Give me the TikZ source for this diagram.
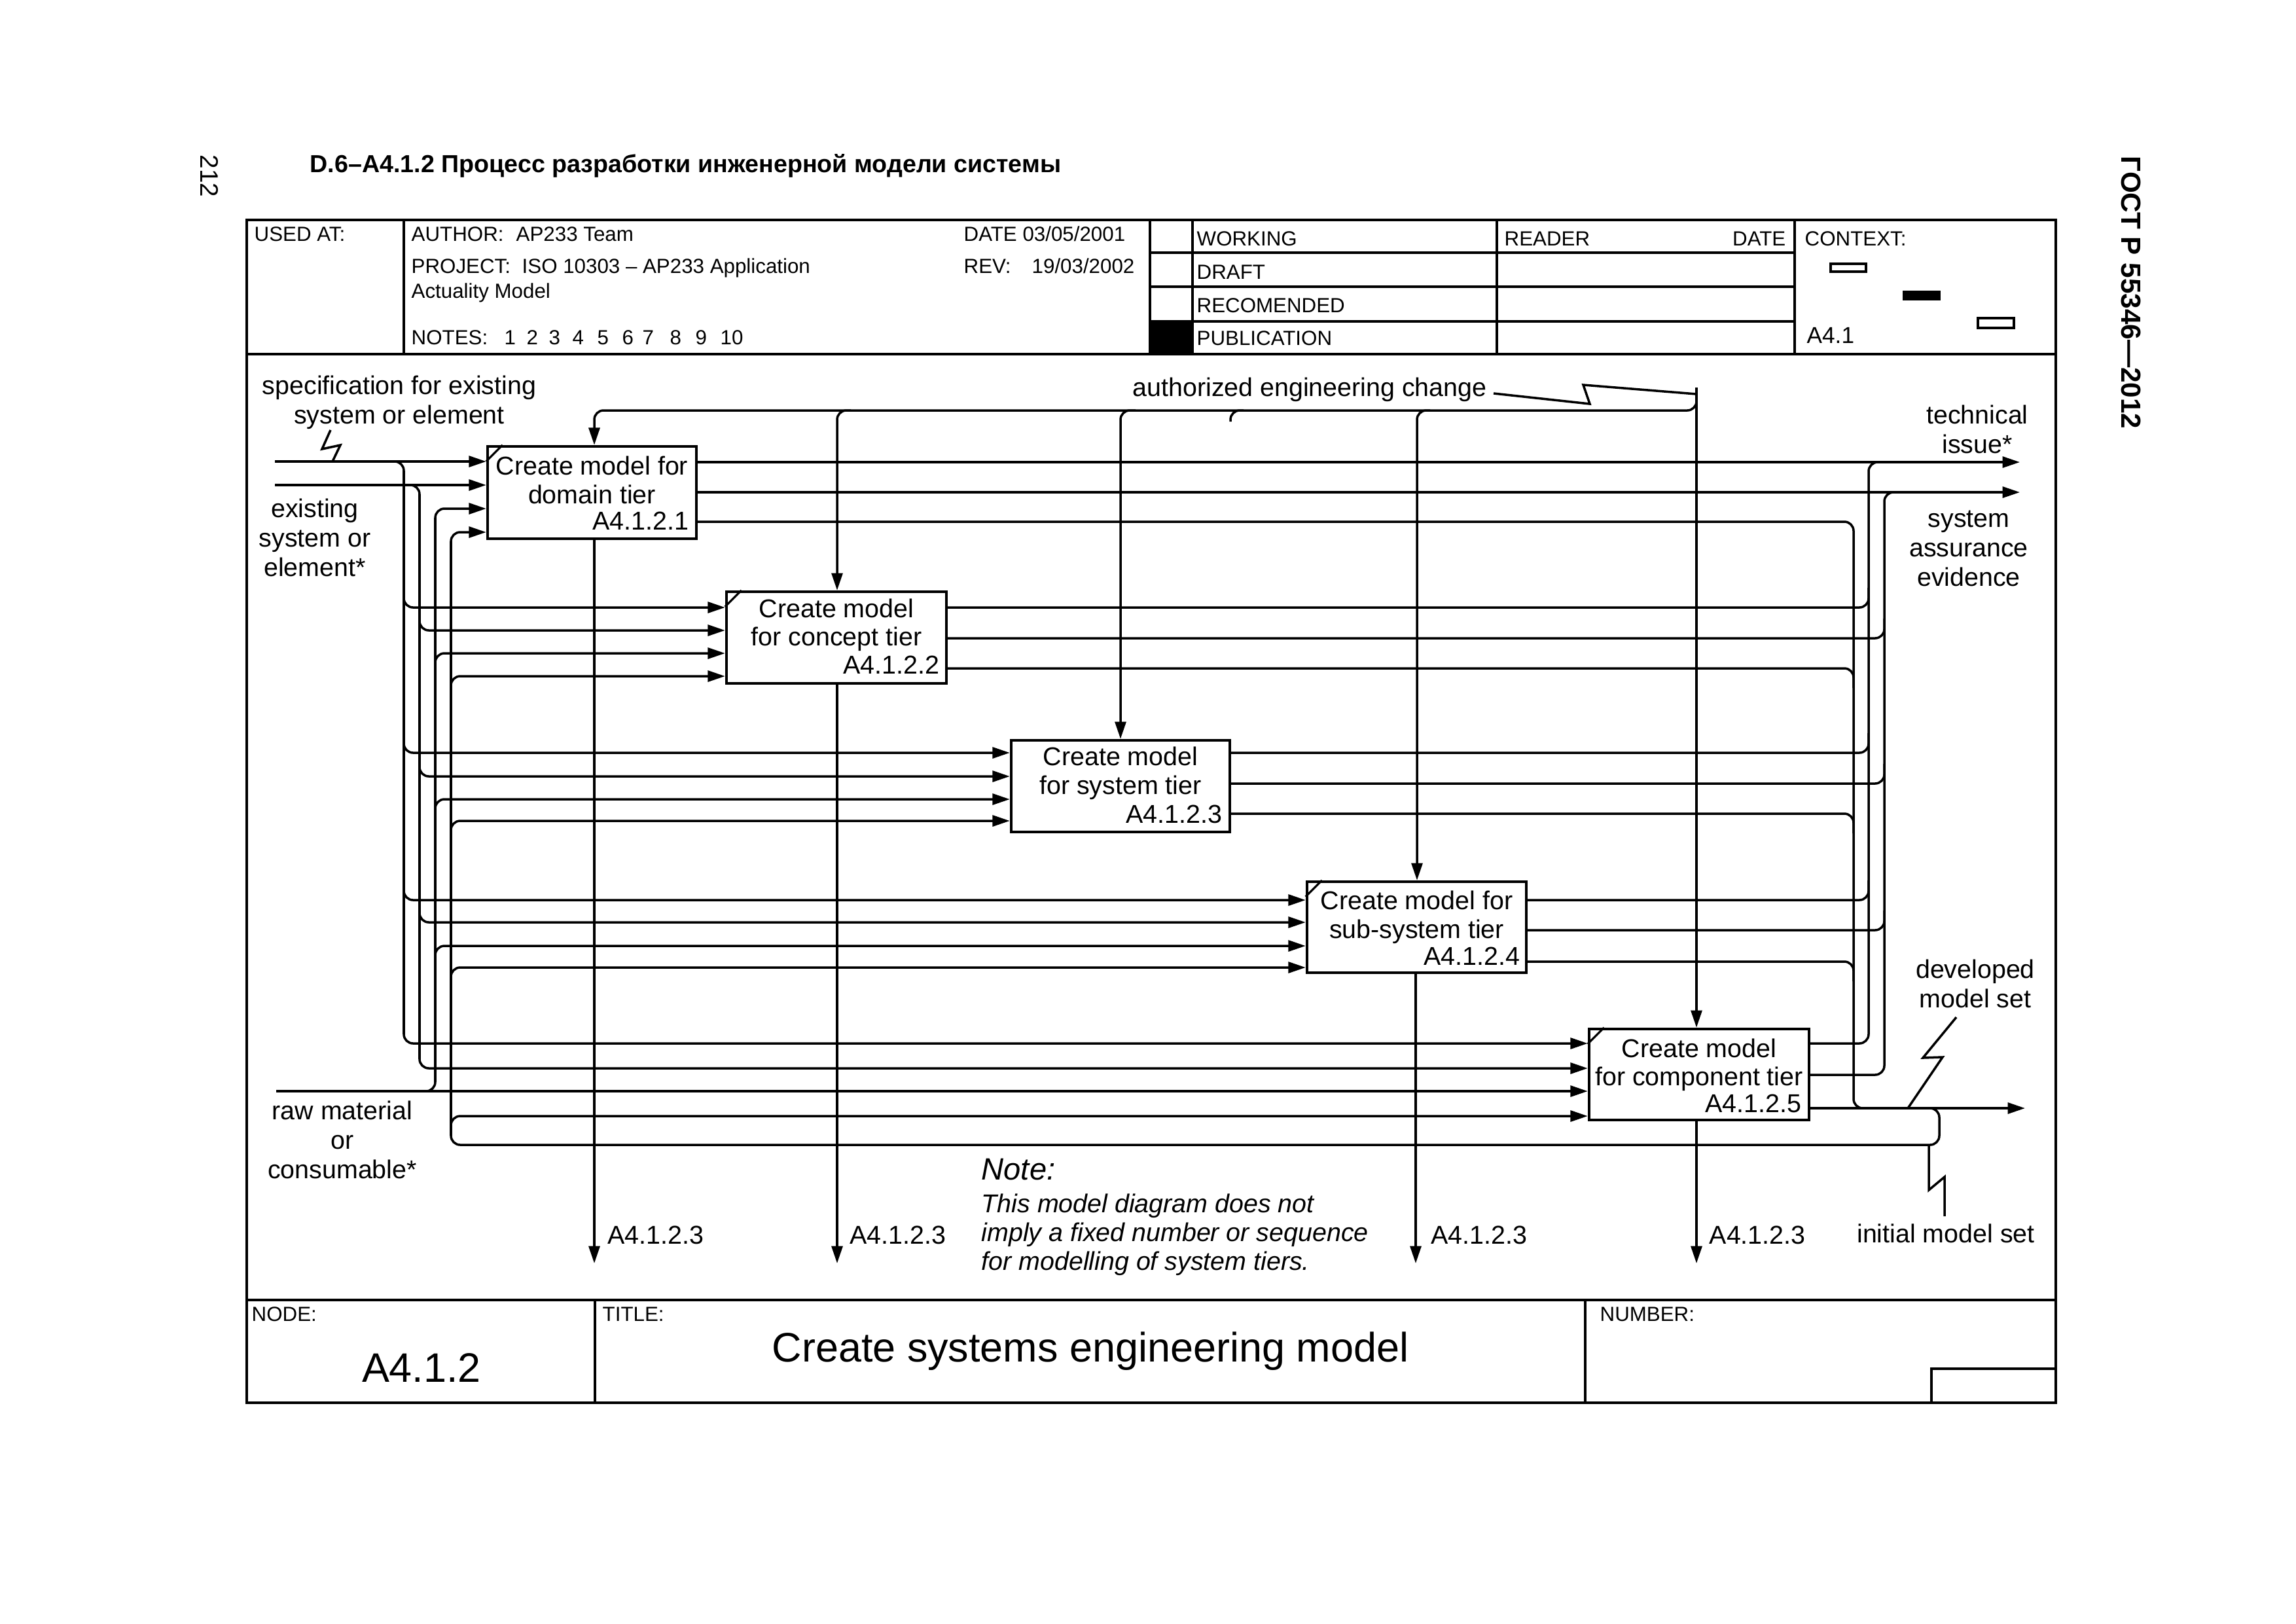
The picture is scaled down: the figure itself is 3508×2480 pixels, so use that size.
\documentclass[tikz,border=0pt]{standalone}
\usepackage{fontspec}
\setmainfont{Liberation Sans}
\usetikzlibrary{arrows.meta}
\begin{document}
\begin{tikzpicture}[x=0.01cm,y=-0.01cm,
  wire/.style={line width=1pt},
  arr/.style={line width=1pt,-{Triangle[length=7.5pt,width=4.8pt]}},
  rc/.style={rounded corners=4pt},
  proc/.style={draw,line width=1.2pt,inner sep=0pt},
  lbl/.style={font=\fontsize{11.2}{13}\selectfont,inner sep=0pt,anchor=base},
  lblw/.style={lbl,anchor=base west},
  hdr/.style={font=\fontsize{8.9}{10.5}\selectfont,inner sep=0pt,anchor=base west},
  frm/.style={line width=1.25pt},
  divl/.style={line width=0.9pt},
  dtick/.style={line width=0.9pt},
  notetxt/.style={font=\itshape\fontsize{11.2}{13}\selectfont,inner sep=0pt,anchor=base west},
]
\useasboundingbox (0,0) rectangle (3508,2480);
\fill[white] (0,0) rectangle (3508,2480);

% ---------- page texts ----------
\node[font=\bfseries\fontsize{10.7}{12.5}\selectfont,inner sep=0pt,anchor=base west] (ptitle) at (473,263) {D.6–A4.1.2 Процесс разработки инженерной модели системы};
\node[font=\fontsize{11}{13}\selectfont,inner sep=0pt,anchor=base west,rotate=-90] (pnum) at (306,236) {212};
\node[font=\bfseries\fontsize{12}{14}\selectfont,inner sep=0pt,anchor=base west,rotate=-90] (gost) at (3241,238) {ГОСТ Р 55346—2012};

% ---------- frame ----------
\draw[frm] (377,336) rectangle (3141,2143);
\draw[frm] (377,541) -- (3141,541);
\draw[frm] (377,1986) -- (3141,1986);

% header dividers
\draw[divl] (617,336) -- (617,541);
\draw[divl] (1757,336) -- (1757,541);
\draw[divl] (1822,336) -- (1822,541);
\draw[divl] (2287,336) -- (2287,541);
\draw[divl] (2742,336) -- (2742,541);
\draw[frm] (1757,386) -- (2742,386);
\draw[frm] (1757,438) -- (2742,438);
\draw[frm] (1757,491) -- (2742,491);
\fill (1757,491) rectangle (1822,541);

% header texts
\node[hdr] (usedat) at (388,368) {USED AT:};
\node[hdr] (author) at (628,368) {AUTHOR:};
\node[hdr] (authorv) at (788,368) {AP233 Team};
\node[hdr] (date) at (1472,368) {DATE 03/05/2001};
\node[hdr] (project) at (628,417) {PROJECT:};
\node[hdr] (projectv) at (797,417) {ISO 10303 – AP233 Application};
\node[hdr] (project2) at (628,455) {Actuality Model};
\node[hdr] (rev) at (1472,417) {REV:};
\node[hdr] (revv) at (1576,417) {19/03/2002};
\node[hdr] (notes) at (628,526) {NOTES:};
\foreach \n/\xx in {1/770,2/804,3/838,4/874,5/912,6/950,7/981,8/1023,9/1062,10/1100}
  \node[hdr] (note\n) at (\xx,526) {\n};
\node[hdr] (working) at (1828,375) {WORKING};
\node[hdr] (draft) at (1828,426) {DRAFT};
\node[hdr] (recom) at (1828,477) {RECOMENDED};
\node[hdr] (publ) at (1828,527) {PUBLICATION};
\node[hdr] (reader) at (2298,375) {READER};
\node[hdr,anchor=base east] (rdate) at (2729,375) {DATE};
\node[hdr] (context) at (2757,375) {CONTEXT:};
\node[font=\fontsize{10}{12}\selectfont,inner sep=0pt,anchor=base west] (ctxid) at (2760,524) {A4.1};
\draw[line width=1.1pt] (2797,403) rectangle (2851,415);
\fill (2907,444) rectangle (2965,459);
\draw[line width=1.1pt] (3022,486) rectangle (3077,501);

% title block
\draw[divl] (909,1986) -- (909,2143);
\draw[divl] (2422,1986) -- (2422,2143);
\draw[divl] (2951,2143) -- (2951,2091) -- (3141,2091);
\node[hdr] (nodelbl) at (384,2018) {NODE:};
\node[hdr] (titlelbl) at (920,2018) {TITLE:};
\node[hdr] (numlbl) at (2444,2018) {NUMBER:};
\node[font=\fontsize{17.9}{20}\selectfont,inner sep=0pt,anchor=base] (nodeid) at (644,2111) {A4.1.2};
\node[font=\fontsize{17.9}{20}\selectfont,inner sep=0pt,anchor=base] (title) at (1666,2080) {Create systems engineering model};

% ---------- boxes ----------
\node[proc,minimum width=3.19cm,minimum height=1.41cm] (b1) at (904.5,752.5) {};
\node[proc,minimum width=3.36cm,minimum height=1.40cm] (b2) at (1278,974) {};
\node[proc,minimum width=3.34cm,minimum height=1.40cm] (b3) at (1712,1201) {};
\node[proc,minimum width=3.35cm,minimum height=1.39cm] (b4) at (2164.5,1416.5) {};
\node[proc,minimum width=3.36cm,minimum height=1.39cm] (b5) at (2596,1641.5) {};

\draw[dtick] (b1.north west) ++(0,25) -- ++(25,-25);
\draw[dtick] (b2.north west) ++(0,25) -- ++(25,-25);
\draw[dtick] (b4.north west) ++(0,25) -- ++(25,-25);
\draw[dtick] (b5.north west) ++(0,25) -- ++(25,-25);

\node[lbl] (b1a) at (904.5,725) {Create model for};
\node[lbl] (b1b) at (904.5,769) {domain tier};
\node[lbl,anchor=base east] (b1c) at (1053,809) {A4.1.2.1};
\node[lbl] (b2a) at (1278,943) {Create model};
\node[lbl] (b2b) at (1278,986) {for concept tier};
\node[lbl,anchor=base east] (b2c) at (1436,1029) {A4.1.2.2};
\node[lbl] (b3a) at (1712,1169) {Create model};
\node[lbl] (b3b) at (1712,1213) {for system tier};
\node[lbl,anchor=base east] (b3c) at (1868,1257) {A4.1.2.3};
\node[lbl] (b4a) at (2164.5,1389) {Create model for};
\node[lbl] (b4b) at (2164.5,1433) {sub-system tier};
\node[lbl,anchor=base east] (b4c) at (2323,1474) {A4.1.2.4};
\node[lbl] (b5a) at (2596,1615) {Create model};
\node[lbl] (b5b) at (2596,1658) {for component tier};
\node[lbl,anchor=base east] (b5c) at (2753,1699) {A4.1.2.5};

% ---------- external labels ----------
\node[lbl] (spec1) at (610,602) {specification for existing};
\node[lbl] (spec2) at (610,647) {system or element};
\node[lbl] (ex1) at (481,790) {existing};
\node[lbl] (ex2) at (481,835) {system or};
\node[lbl] (ex3) at (481,880) {element*};
\node[lbl] (raw1) at (523,1710) {raw material};
\node[lbl] (raw2) at (523,1755) {or};
\node[lbl] (raw3) at (523,1800) {consumable*};
\node[lblw] (auth) at (1730,605) {authorized engineering change};
\node[lbl] (tech1) at (3021,647) {technical};
\node[lbl] (tech2) at (3021,692) {issue*};
\node[lbl] (sae1) at (3008,805) {system};
\node[lbl] (sae2) at (3008,850) {assurance};
\node[lbl] (sae3) at (3008,895) {evidence};
\node[lbl] (dev1) at (3018,1494) {developed};
\node[lbl] (dev2) at (3018,1539) {model set};
\node[lbl] (init) at (2973,1898) {initial model set};
\node[lblw] (o1) at (928,1900) {A4.1.2.3};
\node[lblw] (o2) at (1298,1900) {A4.1.2.3};
\node[lblw] (o4) at (2186,1900) {A4.1.2.3};
\node[lblw] (o5) at (2611,1900) {A4.1.2.3};
\node[font=\itshape\fontsize{13.4}{15}\selectfont,inner sep=0pt,anchor=base west] (note0) at (1499,1802) {Note:};
\node[notetxt] (note1) at (1499,1852) {This model diagram does not};
\node[notetxt] (note2) at (1499,1896) {imply a fixed number or sequence};
\node[notetxt] (note3) at (1499,1940) {for modelling of system tiers.};

% free ends
\coordinate (inSpec) at (420,705);
\coordinate (inExist) at (420,741);
\coordinate (inRaw) at (422,1667);
\coordinate (outTech) at (3086,706);
\coordinate (outSAE) at (3086,752);
\coordinate (outDev) at (3094,1693);

% ---------- squiggles ----------
\draw[wire] (505,657) -- (492,686) -- (520,680) -- (508,705);
\draw[wire] (2282,601) -- (2429,617) -- (2419,588) -- (2592,602);
\draw[wire] (2989,1554) -- (2938,1616) -- (2968,1615) -- (2915,1693);
\draw[wire] (2971,1858) -- (2971,1798) -- (2947,1818) -- (2947,1749);

% ---------- controls ----------
\draw[arr,rc] (2592,592) -- (2592,0 |- b5.north);
\draw[arr,rc] (2592,605) -- (2592,627) -- (908,627) -- (908,0 |- b1.north);
\draw[arr,rc] (1300,627) -- (1279,627) -- (1279,0 |- b2.north);
\draw[arr,rc] (1735,627) -- (1712,627) -- (1712,0 |- b3.north);
\draw[arr,rc] (2185,627) -- (2165,627) -- (2165,0 |- b4.north);
\draw[wire,rc] (1900,627) -- (1880,627) -- (1880,644);

% ---------- downward outputs ----------
\draw[arr] (908,0 |- b1.south) -- (908,1930);
\draw[arr] (1279,0 |- b2.south) -- (1279,1930);
\draw[arr] (2163,0 |- b4.south) -- (2163,1930);
\draw[arr] (2592,0 |- b5.south) -- (2592,1930);

% ---------- inputs ----------
% specification
\draw[arr] (inSpec) -- (b1.west |- inSpec);
\draw[arr,rc] (600,705) -- (617,705) -- (617,1594) -- (b5.west |- 0,1594);
\draw[arr,rc] (617,900) -- (617,928) -- (b2.west |- 0,928);
\draw[arr,rc] (617,1122) -- (617,1150) -- (b3.west |- 0,1150);
\draw[arr,rc] (617,1347) -- (617,1375) -- (b4.west |- 0,1375);
% existing
\draw[arr] (inExist) -- (b1.west |- inExist);
\draw[arr,rc] (624,741) -- (641,741) -- (641,1632) -- (b5.west |- 0,1632);
\draw[arr,rc] (641,935) -- (641,963) -- (b2.west |- 0,963);
\draw[arr,rc] (641,1158) -- (641,1186) -- (b3.west |- 0,1186);
\draw[arr,rc] (641,1381) -- (641,1409) -- (b4.west |- 0,1409);
% raw material
\draw[arr] (inRaw) -- (b5.west |- inRaw);
\draw[arr,rc] (648,1667) -- (665,1667) -- (665,777) -- (b1.west |- 0,777);
\draw[arr,rc] (665,1026) -- (665,998) -- (b2.west |- 0,998);
\draw[arr,rc] (665,1249) -- (665,1221) -- (b3.west |- 0,1221);
\draw[arr,rc] (665,1473) -- (665,1445) -- (b4.west |- 0,1445);
% model set loop
\draw[arr,rc] (2945,1693) -- (2963,1693) -- (2963,1749) -- (689,1749) -- (689,813) -- (b1.west |- 0,813);
\draw[arr,rc] (689,1061) -- (689,1033) -- (b2.west |- 0,1033);
\draw[arr,rc] (689,1282) -- (689,1254) -- (b3.west |- 0,1254);
\draw[arr,rc] (689,1506) -- (689,1478) -- (b4.west |- 0,1478);
\draw[arr,rc] (689,1733) -- (689,1705) -- (b5.west |- 0,1705);

% ---------- outputs ----------
\draw[arr] (b1.east |- outTech) -- (outTech);
\draw[arr] (b1.east |- outSAE) -- (outSAE);
\draw[wire,rc] (b1.east |- 0,797) -- (2832,797) -- (2832,1693) -- (2862,1693);
% output 1 -> technical issue
\draw[wire,rc] (b5.east |- 0,1594) -- (2855,1594) -- (2855,706) -- (2885,706);
\draw[wire,rc] (b2.east |- 0,928) -- (2855,928) -- (2855,898);
\draw[wire,rc] (b3.east |- 0,1150) -- (2855,1150) -- (2855,1120);
\draw[wire,rc] (b4.east |- 0,1375) -- (2855,1375) -- (2855,1345);
% output 2 -> system assurance evidence
\draw[wire,rc] (b5.east |- 0,1642) -- (2879,1642) -- (2879,752) -- (2909,752);
\draw[wire,rc] (b2.east |- 0,975) -- (2879,975) -- (2879,945);
\draw[wire,rc] (b3.east |- 0,1197) -- (2879,1197) -- (2879,1167);
\draw[wire,rc] (b4.east |- 0,1421) -- (2879,1421) -- (2879,1391);
% output 3 -> developed model set
\draw[arr] (b5.east |- outDev) -- (outDev);
\draw[wire,rc] (b2.east |- 0,1021) -- (2832,1021) -- (2832,1051);
\draw[wire,rc] (b3.east |- 0,1243) -- (2832,1243) -- (2832,1273);
\draw[wire,rc] (b4.east |- 0,1469) -- (2832,1469) -- (2832,1499);

\end{tikzpicture}
\end{document}
